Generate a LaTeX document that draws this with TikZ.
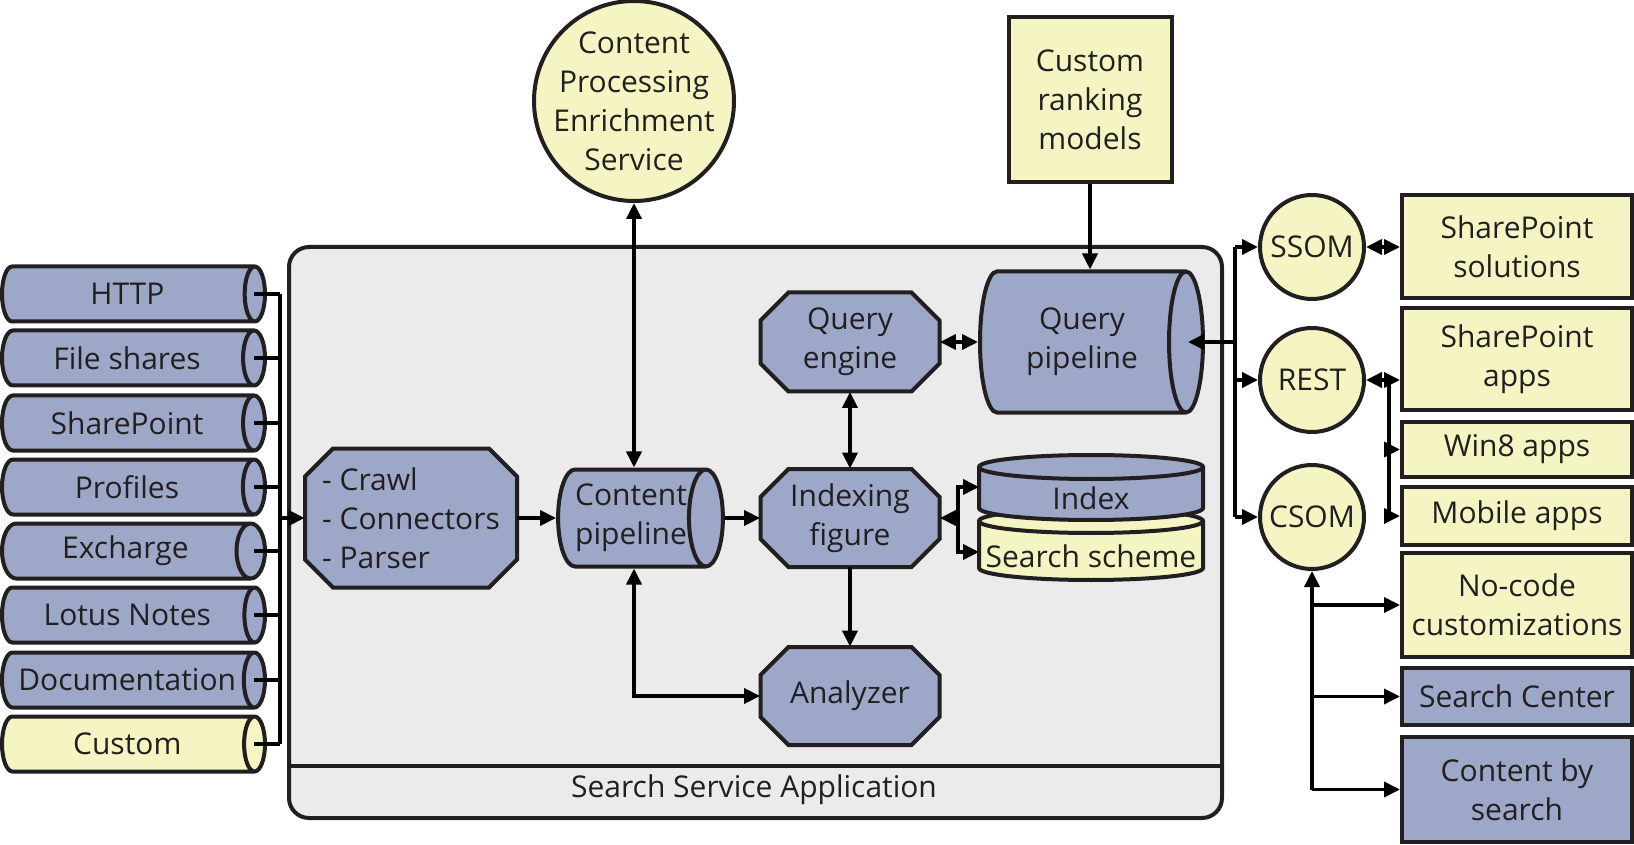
\documentclass[tikz,border=0pt]{standalone}
\usepackage{fontspec}
\setmainfont{Open Sans}
\usetikzlibrary{shapes.geometric,arrows.meta,calc}
\definecolor{boxblue}{HTML}{9DA8C8}
\definecolor{boxyellow}{HTML}{F5F5C4}
\definecolor{appgray}{HTML}{EBEBEB}
\definecolor{edge}{HTML}{231F20}

% octagon: [node options]{name}{x}{y}{half width}{half height}{text}
\newcommand\octnode[7][]{%
  \draw[octline] ({#3-#5+28},{#4-#6}) -- ({#3+#5-28},{#4-#6}) -- ({#3+#5},{#4-#6+28})
    -- ({#3+#5},{#4+#6-28}) -- ({#3+#5-28},{#4+#6}) -- ({#3-#5+28},{#4+#6})
    -- ({#3-#5},{#4+#6-28}) -- ({#3-#5},{#4-#6+28}) -- cycle;
  \node[inner sep=0pt,align=center,minimum width=#5pt,minimum height=#6pt,#1] (#2) at (#3,#4) {#7};}

\begin{document}
\begin{tikzpicture}[x=0.5pt,y=-0.5pt,
  every node/.style={font=\fontsize{15}{19.5}\selectfont,text=edge},
  octline/.style={draw=edge,line width=2pt,fill=boxblue,line join=miter},
  pipe/.style={draw=edge,line width=2pt,cylinder,shape aspect=0.5,anchor=shape center,
    cylinder uses custom fill,cylinder body fill=boxblue,cylinder end fill=boxblue,
    inner sep=0pt,align=center},
  src/.style={pipe,shape aspect=0.95,minimum height=131.5pt,minimum width=27.5pt},
  ybox/.style={draw=edge,line width=2pt,fill=boxyellow,minimum width=115pt,
    inner sep=0pt,align=center},
  bbox/.style={ybox,fill=boxblue},
  ycirc/.style={draw=edge,line width=2pt,fill=boxyellow,circle,inner sep=0pt,align=center},
  wire/.style={line width=1.8pt},
  arr/.style={wire,-{Triangle[length=8pt,width=7.5pt]}},
  biarr/.style={wire,{Triangle[length=8pt,width=7.5pt]}-{Triangle[length=8pt,width=7.5pt]}}]

\useasboundingbox (0,0) rectangle (1634,845);

\draw[draw=edge,line width=2pt,fill=appgray,rounded corners=10pt] (289,247) rectangle (1222,818);
\draw[draw=edge,line width=2pt] (289,766) -- (1222,766);
\node (ssa) at (754,790) {Search Service Application};

\node[src] (http) at (133.5,294) {HTTP};
\node[src] (files) at (133.5,358) {File shares};
\node[src] (sp) at (133.5,423) {SharePoint};
\node[src] (prof) at (133.5,487) {Profiles};
\node[src] (exch) at (133.5,551) {Excharge};
\node[src] (lotus) at (133.5,615) {Lotus Notes};
\node[src] (docs) at (133.5,680) {Documentation};
\node[src,cylinder body fill=boxyellow,cylinder end fill=boxyellow] (cust) at (133.5,744) {Custom};

\coordinate (bl1) at (280,294);
\coordinate (bl2) at (280,744);
\draw[wire] (bl1) -- (bl2);
\foreach \s in {http,files,sp,prof,exch,lotus,docs,cust}
  \draw[wire] ($(\s.east)+(-13,0)$) -- (\s.east -| bl1);

\octnode[align=left]{crawl}{411}{518}{106}{69.5}{- Crawl\\- Connectors\\- Parser}
\node[pipe,minimum height=81.5pt,minimum width=48.5pt] (cp) at (640.5,518) {Content\\pipeline};
\octnode{ifig}{850}{518}{89.5}{49}{Indexing\\figure}
\octnode{qe}{850}{342}{89.5}{49.5}{Query\\engine}
\octnode{an}{850}{696}{89.5}{49}{Analyzer}
\node[pipe,minimum height=111.5pt,minimum width=70.5pt] (qp) at (1091.5,342) {Query\\pipeline};

\node[ycirc,minimum size=100pt,inner sep=-8pt] (cpes) at (634,101) {Content\\Processing\\Enrichment\\Service};
\node[ybox,minimum width=81.5pt,minimum height=82.5pt] (crm) at (1090,100) {Custom\\ranking\\models};

\draw[draw=edge,line width=2pt,fill=boxyellow] (979,521) -- (979,568)
  arc[start angle=180,end angle=0,x radius=112,y radius=12] -- (1203,521);
\draw[draw=edge,line width=2pt,fill=boxyellow] (1091,521) ellipse[x radius=112,y radius=12];
\draw[draw=edge,line width=2pt,fill=boxblue] (979,467) -- (979,508)
  arc[start angle=180,end angle=0,x radius=112,y radius=12] -- (1203,467);
\draw[draw=edge,line width=2pt,fill=boxblue] (1091,467) ellipse[x radius=112,y radius=12];
\node (idx) at (1091,498) {Index};
\node (ss) at (1091,556) {Search scheme};
\coordinate (idxw) at (979,487);
\coordinate (ssw) at (979,552);

\draw[arr] (bl1 |- crawl.west) -- (crawl.west);
\draw[arr] (crawl.east) -- (cp.west);
\draw[arr] (cp.east) -- (ifig.west);
\draw[biarr] (cpes.south) -- (cpes.south |- cp.north);
\draw[biarr] (cpes.south |- cp.south) |- (an.west);
\draw[arr] (crm.south) -- (crm.south |- qp.north);
\draw[biarr] (qe.east) -- (qe.east -| qp.west);
\draw[biarr] (qe.south) -- (ifig.north);
\draw[arr] (ifig.south) -- (an.north);
\draw[arr] ($(ifig.east)+(18,0)$) |- (idxw);
\draw[arr] ($(ifig.east)+(18,0)$) |- (ssw);
\draw[arr] ($(ifig.east)+(18,0)$) -- (ifig.east);

\node[ycirc,minimum size=52pt] (ssom) at (1312,247) {SSOM};
\node[ycirc,minimum size=52pt] (rest) at (1312,380) {REST};
\node[ycirc,minimum size=52pt] (csom) at (1312,517) {CSOM};

\coordinate (br1) at (1235,247);
\coordinate (br2) at (1235,517);
\draw[wire] (br1) -- (br2);
\draw[arr] (br1 |- qp.east) -- ($(qp.east)+(-17,0)$);
\draw[arr] (br1 |- ssom.west) -- (ssom.west);
\draw[arr] (br1 |- rest.west) -- (rest.west);
\draw[arr] (br1 |- csom.west) -- (csom.west);

\node[ybox,minimum height=51.5pt] (sps) at (1517,246.5) {SharePoint\\solutions};
\node[ybox,minimum height=51pt] (spa) at (1517,359) {SharePoint\\apps};
\node[ybox,minimum height=27.5pt] (win) at (1517,449.5) {Win8 apps};
\node[ybox,minimum height=29pt] (mob) at (1517,516) {Mobile apps};
\node[ybox,minimum height=52pt] (noc) at (1517,605) {No-code\\customizations};
\node[bbox,minimum height=28.5pt] (sc) at (1517,696.5) {Search Center};
\node[bbox,minimum height=52.5pt] (cbs) at (1517,789.5) {Content by\\search};

\draw[biarr] (ssom.east) -- (ssom.east -| sps.west);
\draw[biarr] (rest.east) -- (rest.east -| spa.west);
\draw[arr] ($(rest.east)+(23,0)$) |- (win.west);
\draw[arr] ($(rest.east)+(23,0)$) |- (mob.west);
\draw[arr] (csom.south |- cbs.west) -- (csom.south);
\draw[arr] (csom.south |- noc.west) -- (noc.west);
\draw[arr] (csom.south |- sc.west) -- (sc.west);
\draw[arr] (csom.south |- cbs.west) -- (cbs.west);

\end{tikzpicture}
\end{document}
